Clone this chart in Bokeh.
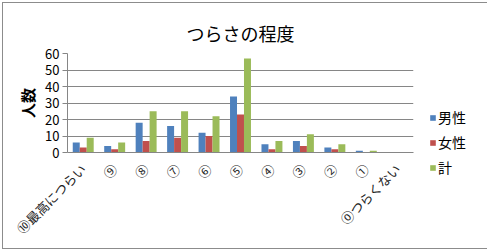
from bokeh.plotting import figure
from bokeh.models import ColumnDataSource, Legend, LegendItem, Range1d, FixedTicker
from bokeh.transform import dodge
from bokeh.embed import file_html
from bokeh.resources import INLINE
import math

categories = ["⑩最高につらい", "⑨", "⑧", "⑦", "⑥", "⑤", "④", "③", "②", "①", "⓪つらくない"]
male = [6, 4, 18, 16, 12, 34, 5, 7, 3, 1, 0]
female = [3, 2, 7, 9, 10, 23, 2, 4, 2, 0, 0]
total = [9, 6, 25, 25, 22, 57, 7, 11, 5, 1, 0]
series_names = ["男性", "女性", "計"]
colors = ["#4F81BD", "#C0504D", "#9BBB59"]

FONT = "Noto Sans CJK JP"

src = ColumnDataSource(dict(cat=categories, male=male, female=female, total=total))

p = figure(frame_width=346, frame_height=99, x_range=categories, y_range=Range1d(0, 60),
           output_backend="svg", toolbar_location=None,
           min_border_left=64, min_border_right=71, min_border_top=50, min_border_bottom=96)
p.styles = {"border": "1px solid #8c8c8c", "margin": "2px"}

p.title.text = "つらさの程度"
p.title.align = "center"
p.title.text_font = FONT
p.title.text_font_size = "18px"
p.title.text_font_style = "normal"
p.title.text_color = "black"
p.title.offset = 0
p.title.standoff = 16

bw = 0.222
r1 = p.vbar(x=dodge("cat", -bw, range=p.x_range), top="male", width=bw, source=src, color=colors[0], line_color=None)
r2 = p.vbar(x=dodge("cat", 0, range=p.x_range), top="female", width=bw, source=src, color=colors[1], line_color=None)
r3 = p.vbar(x=dodge("cat", bw, range=p.x_range), top="total", width=bw, source=src, color=colors[2], line_color=None)

p.x_range.range_padding = 0
p.outline_line_color = None
p.background_fill_color = "white"
p.border_fill_color = "white"

grid_c = "#868686"
p.xgrid.grid_line_color = None
p.ygrid.grid_line_color = grid_c
p.ygrid.ticker = FixedTicker(ticks=[0, 10, 20, 30, 40, 50, 60])

p.yaxis.ticker = FixedTicker(ticks=[0, 10, 20, 30, 40, 50, 60])
p.yaxis.axis_line_color = grid_c
p.yaxis.major_tick_line_color = grid_c
p.yaxis.major_tick_out = 5
p.yaxis.major_tick_in = 0
p.yaxis.minor_tick_line_color = None
p.yaxis.major_label_text_font = FONT
p.yaxis.major_label_text_font_size = "13px"
p.yaxis.major_label_text_color = "black"
p.yaxis.major_label_standoff = 3
p.yaxis.axis_label = "人数"
p.yaxis.axis_label_text_font = FONT
p.yaxis.axis_label_text_font_size = "15px"
p.yaxis.axis_label_text_font_style = "bold"
p.yaxis.axis_label_text_color = "black"
p.yaxis.axis_label_standoff = 4

p.xaxis.axis_line_color = grid_c
p.xaxis.major_tick_line_color = None
p.xaxis.minor_tick_line_color = None
p.xaxis.major_label_orientation = math.pi / 4
p.xaxis.major_label_text_font = FONT
p.xaxis.major_label_text_font_size = "13px"
p.xaxis.major_label_text_color = "#222222"
p.xaxis.major_label_standoff = 8

legend = Legend(items=[LegendItem(label=series_names[0], renderers=[r1]),
                       LegendItem(label=series_names[1], renderers=[r2]),
                       LegendItem(label=series_names[2], renderers=[r3])],
                location="top_left", title=" ", title_text_font_size="14px", title_standoff=22,
                glyph_width=7, glyph_height=7,
                label_text_font=FONT, label_text_font_size="14px", label_text_color="black",
                label_standoff=2, spacing=5, padding=0, margin=16,
                border_line_color=None, background_fill_alpha=0)
p.add_layout(legend, "right")

open("out.html", "w").write(file_html(p, INLINE))
